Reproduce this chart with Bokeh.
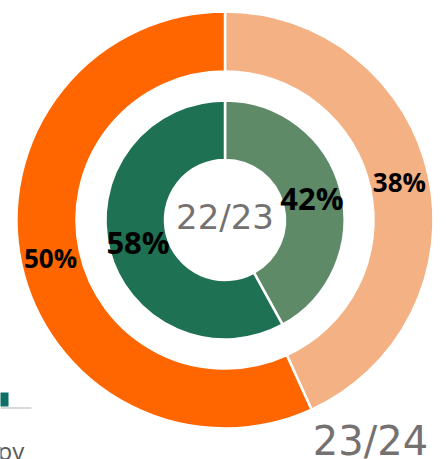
import numpy as np
from bokeh.plotting import figure
from bokeh.models import Range1d
from bokeh.core.properties import value
from bokeh.embed import file_html
from bokeh.resources import INLINE

# ---- data ----
outer_series = ["A", "B"]
outer_values = [38, 50]           # 23/24 ring (clockwise from top)
outer_colors = ["#F4B183", "#FF6600"]
inner_series = ["A", "B"]
inner_values = [42, 58]           # 22/23 ring
inner_colors = ["#5F8A68", "#1E7152"]
outer_title = "23/24"
inner_title = "22/23"
legend_fragment = "py"

W, H = 446, 459
p = figure(width=W, height=H, output_backend="svg", toolbar_location=None,
           x_range=Range1d(0, W), y_range=Range1d(0, H), min_border=0,
           background_fill_color="white", border_fill_color="white")
p.axis.visible = False
p.grid.visible = False
p.outline_line_color = None

cx, cy = 224.5, H - 219.5


def ring(vals, colors, r_in, r_out, label_size):
    vals = np.array(vals, dtype=float)
    frac = vals / vals.sum()
    ends = np.pi / 2 - np.concatenate([[0], np.cumsum(frac)[:-1]]) * 2 * np.pi
    starts = ends - frac * 2 * np.pi
    p.annular_wedge(x=cx, y=cy, inner_radius=r_in, outer_radius=r_out,
                    start_angle=list(starts), end_angle=list(ends),
                    fill_color=colors, line_color="white", line_width=2.5,
                    inner_radius_units="screen", outer_radius_units="screen")
    mids = (starts + ends) / 2
    rm = (r_in + r_out) / 2
    xs = cx + rm * np.cos(mids)
    ys = cy + rm * np.sin(mids)
    p.text(x=list(xs), y=list(ys), text=[f"{int(v)}%" for v in vals],
           text_align="center", text_baseline="middle",
           text_font=value("Open Sans"), text_font_style="bold",
           text_font_size=label_size, text_color="black")


ring(outer_values, outer_colors, 148.5, 208.5, "26px")
ring(inner_values, inner_colors, 60, 119.5, "31px")

p.text(x=[cx], y=[cy + 3], text=[inner_title], text_align="center",
       text_baseline="middle", text_font=value("DejaVu Sans"),
       text_font_size="34px", text_color="#767171")
p.text(x=[370], y=[H - 440], text=[outer_title], text_align="center",
       text_baseline="middle", text_font=value("DejaVu Sans"),
       text_font_size="40px", text_color="#767171")

# cropped legend fragment at bottom-left
p.quad(left=[-2], right=[8], bottom=[H - 406], top=[H - 392],
       fill_color="#0E6F66", line_color=None)
p.segment(x0=[0], y0=[H - 407.5], x1=[31], y1=[H - 407.5],
          line_color="#D9D9D9", line_width=2)
p.text(x=[-3], y=[H - 450], text=[legend_fragment], text_align="left",
       text_baseline="middle", text_font=value("Open Sans"),
       text_font_size="24px", text_color="#595959")

open("out.html", "w").write(file_html(p, INLINE))
